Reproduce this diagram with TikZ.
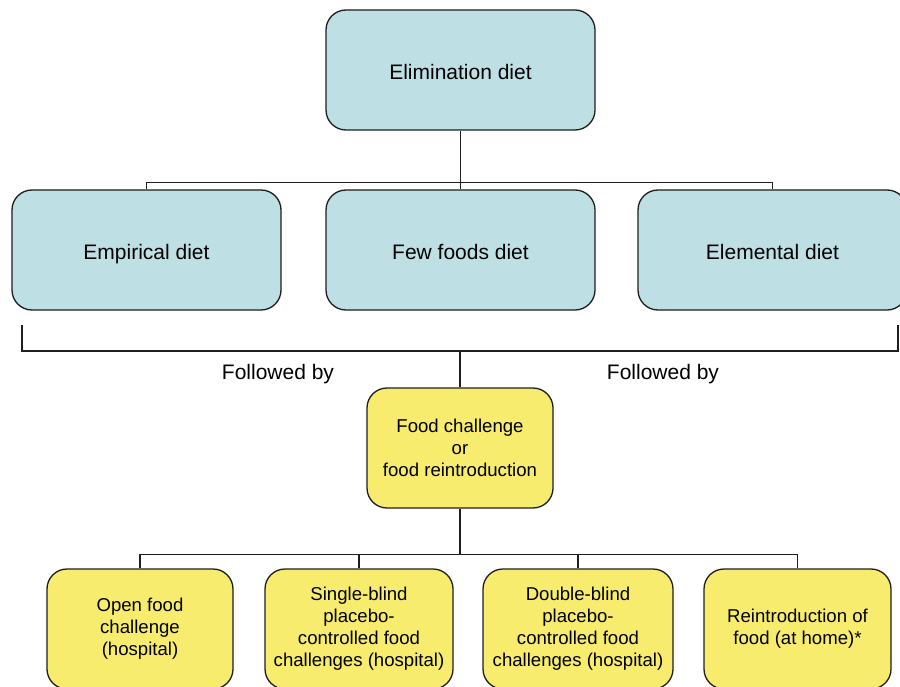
\documentclass[tikz,border=0pt]{standalone}
\usepackage{fontspec}
\setmainfont{Liberation Sans}
\definecolor{boxblue}{HTML}{BEE0E4}
\definecolor{boxyellow}{HTML}{F7EC6E}
\definecolor{edge}{HTML}{1E1E1E}
\begin{document}
\begin{tikzpicture}[x=1pt,y=-1pt,
  bluebox/.style={draw=edge,line width=1.3pt,fill=boxblue,rounded corners=20pt,minimum width=269pt,minimum height=120pt,inner sep=0pt,align=center,font=\fontsize{21}{25}\selectfont,text height=19pt,text depth=0pt},
  yellowbox/.style={draw=edge,line width=1.3pt,fill=boxyellow,rounded corners=20pt,minimum height=120pt,inner sep=0pt,align=center,font=\fontsize{18.6}{22}\selectfont},
  conn/.style={draw=edge,line width=1.1pt},
  lbl/.style={font=\fontsize{21}{25}\selectfont,inner sep=0pt}]
\useasboundingbox (0,0) rectangle (900,687);
\clip (0,0) rectangle (900,687);
\node[bluebox] (top) at (460.5,70) {Elimination diet};
\node[bluebox] (emp) at (146.5,250) {Empirical diet};
\node[bluebox] (few) at (460.5,250) {Few foods diet};
\node[bluebox] (ele) at (772.5,250) {Elemental diet};
\node[yellowbox,minimum width=186pt,text depth=0pt] (fc) at (460,448) {Food challenge\\or\\food reintroduction};
\node[yellowbox,minimum width=186pt] (b1) at (140,629) {Open food\\challenge\\(hospital)};
\node[yellowbox,minimum width=188pt] (b2) at (359,629) {Single-blind\\placebo-\\controlled food\\challenges (hospital)};
\node[yellowbox,minimum width=190pt] (b3) at (578,629) {Double-blind\\placebo-\\controlled food\\challenges (hospital)};
\node[yellowbox,minimum width=187pt] (b4) at (797.5,629) {Reintroduction of\\food (at home)*};
\node[lbl] (f1) at (278,374) {Followed by};
\node[lbl] (f2) at (663,374) {Followed by};
% top connectors
\draw[conn] (top.south) -- (few.north);
\draw[conn] (emp.north) -- ++(0,-7) -| (ele.north);
% bracket
\coordinate (bl) at (22,325);
\coordinate (br) at (898,325);
\coordinate (bm) at (460,351);
\draw[conn] (bl) |- (bm) -| (br);
\draw[conn] (bm) -- (fc.north);
% bottom connectors
\coordinate (jb) at (460,555);
\draw[conn] (fc.south) -- (jb);
\draw[conn] (b1.north) -- ++(0,-14) -| (b4.north);
\draw[conn] (b2.north) -- ++(0,-14);
\draw[conn] (b3.north) -- ++(0,-14);
\end{tikzpicture}
\end{document}
